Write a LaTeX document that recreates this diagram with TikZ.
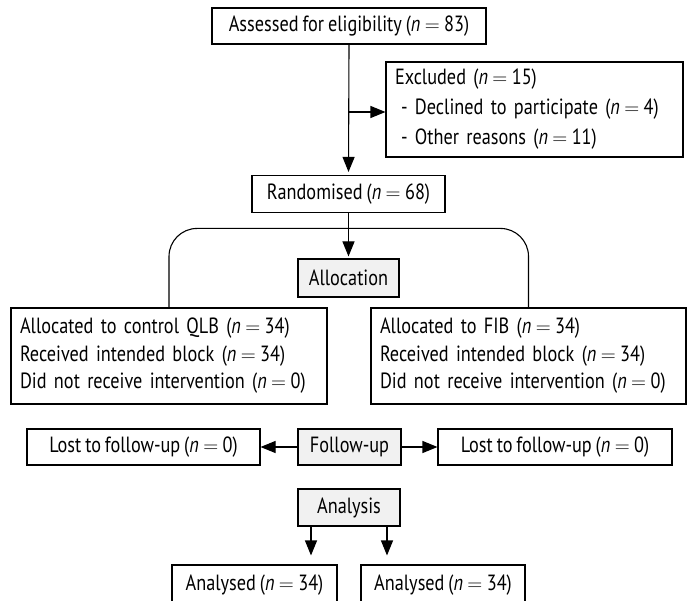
\documentclass[tikz,border=0pt]{standalone}
\usepackage{fontspec}
\setmainfont{PT Sans}[FakeStretch=0.83, WordSpace=0.8]
\usetikzlibrary{arrows.meta}
\tikzset{
  box/.style={draw=black, line width=1.1pt, fill=white, inner sep=0pt, font=\fontsize{22}{27.5}\selectfont},
  gbox/.style={box, fill=gray!11},
  tbox/.style={box, align=left, inner xsep=9pt},
  arr/.style={line width=1.1pt, -{Triangle[length=15pt,width=12pt]}},
  ln/.style={line width=1.1pt}
}
\newcommand{\nn}[1]{({\itshape n}\hspace{0.2em}$=$\hspace{0.2em}#1)}
\begin{document}
\begin{tikzpicture}[x=1pt,y=-1pt]
\useasboundingbox (0,0) rectangle (687,601);
\clip (0,0) rectangle (687,601);
\node[box, minimum width=274, minimum height=36] (assess) at (349,26) {Assessed for eligibility \nn{83}};
\node[tbox, text width=279, minimum height=95, font=\fontsize{22}{30}\selectfont] (excl) at (534.5,109.5)
  {Excluded \nn{15}\\\hspace{6pt}- Declined to participate \nn{4}\\\hspace{6pt}- Other reasons \nn{11}};
\node[box, minimum width=193, minimum height=37] (rand) at (348.5,194) {Randomised \nn{68}};
\node[gbox, minimum width=101, minimum height=38] (alloc) at (348.5,278) {Allocation};
\node[tbox, text width=298, minimum height=96] (a1) at (169,356)
  {Allocated to control QLB \nn{34}\\Received intended block \nn{34}\\Did not receive intervention \nn{0}};
\node[tbox, text width=297, minimum height=96] (a2) at (528.5,356)
  {Allocated to FIB \nn{34}\\Received intended block \nn{34}\\Did not receive intervention \nn{0}};
\node[box, minimum width=233, minimum height=36] (lost1) at (143.5,447) {Lost to follow-up \nn{0}};
\node[gbox, minimum width=103, minimum height=36] (fu) at (349.5,447) {Follow-up};
\node[box, minimum width=234, minimum height=36] (lost2) at (555,447) {Lost to follow-up \nn{0}};
\node[gbox, minimum width=102, minimum height=37] (ana) at (349,507.5) {Analysis};
\node[box, minimum width=165, minimum height=40] (an1) at (254.5,585) {\raisebox{4pt}{Analysed \nn{34}}};
\node[box, minimum width=164, minimum height=40] (an2) at (443,585) {\raisebox{4pt}{Analysed \nn{34}}};
% connectors
\draw[arr, shorten >=3pt] (assess.south) -- (rand.north);
\draw[arr] (assess.south |- 0,112) -- (excl.west |- 0,112);
\draw[arr, shorten >=2pt] (rand.south) -- (alloc.north);
\draw[ln, rounded corners=28pt] (a1.north) -- ++(0,-79) -| (a2.north);
\draw[arr] (fu.west) -- (lost1.east);
\draw[arr] (fu.east) -- (lost2.west);
\draw[arr, shorten >=9pt] ([xshift=-38pt]ana.south) -- ([xshift=-38pt]ana.south |- an1.north);
\draw[arr, shorten >=9pt] ([xshift=38pt]ana.south) -- ([xshift=38pt]ana.south |- an2.north);
\end{tikzpicture}
\end{document}
